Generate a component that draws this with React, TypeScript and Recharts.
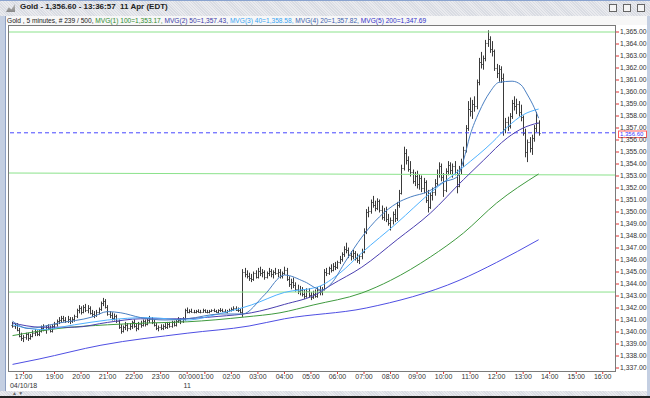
import React from 'react'
import { Bar, ComposedChart, Line, ReferenceLine, XAxis, YAxis } from 'recharts'

// 5 minute bars, index 0 = first visible bar, index 238 = 13:35
const opens = [
  1340.6, 1340.5, 1340.6, 1340.2, 1339.7, 1339.5, 1339.6, 1339.8, 1339.5, 1339.7,
  1339.9, 1340.0, 1339.8, 1340.1, 1340.3, 1340.2, 1340.4, 1340.3, 1340.1, 1340.5,
  1340.7, 1340.9, 1341.0, 1341.2, 1341.0, 1340.9, 1341.1, 1340.9, 1341.1, 1341.3,
  1341.8, 1342.0, 1341.7, 1342.1, 1341.8, 1342.0, 1341.6, 1341.5, 1341.4, 1341.7,
  1341.9, 1342.4, 1342.6, 1342.1, 1341.5, 1341.4, 1341.2, 1341.3, 1340.9, 1340.4,
  1340.1, 1340.4, 1340.6, 1340.3, 1340.5, 1340.8, 1340.5, 1340.3, 1340.7, 1340.6,
  1340.9, 1340.7, 1341.0, 1341.1, 1340.8, 1340.6, 1340.3, 1340.4, 1340.3, 1340.5,
  1340.4, 1340.7, 1340.5, 1340.8, 1340.6, 1340.9, 1341.0, 1340.9, 1341.1, 1341.8,
  1341.7, 1341.75, 1341.7, 1341.65, 1341.75, 1341.7, 1341.7, 1341.8, 1341.7, 1341.65,
  1341.75, 1341.8, 1341.75, 1341.7, 1341.8, 1341.85, 1341.75, 1341.7, 1341.75, 1341.85,
  1341.9, 1342.0, 1341.85, 1341.8, 1341.65, 1345.0, 1344.8, 1344.7, 1344.5, 1344.4,
  1344.9, 1344.6, 1345.1, 1344.9, 1345.0, 1344.6, 1344.9, 1345.1, 1344.8, 1345.0,
  1344.9, 1345.0, 1344.7, 1344.9, 1345.2, 1344.4, 1344.0, 1344.2, 1343.9, 1343.6,
  1343.4, 1343.5, 1343.2, 1343.0, 1343.4, 1343.1, 1342.9, 1343.2, 1343.0, 1343.5,
  1343.3, 1343.6, 1345.0, 1344.9, 1345.3, 1345.2, 1345.5, 1345.4, 1345.8, 1346.1,
  1346.5, 1346.9, 1346.8, 1346.4, 1346.3, 1346.6, 1346.2, 1346.0, 1346.3, 1346.7,
  1348.4, 1350.0, 1350.1, 1350.8, 1350.6, 1350.3, 1350.9, 1350.2, 1349.6, 1350.1,
  1349.4, 1349.1, 1349.3, 1349.8, 1349.5, 1350.6, 1351.6, 1353.7, 1354.9, 1354.3,
  1353.6, 1353.3, 1352.6, 1353.0, 1352.3, 1352.8, 1352.0, 1352.5, 1351.0, 1350.4,
  1351.4, 1351.7, 1352.4, 1353.2, 1353.8, 1352.9, 1351.8, 1353.4, 1353.9, 1353.5,
  1353.8, 1353.3, 1352.2, 1353.6, 1354.1, 1355.2, 1357.0, 1358.6, 1358.4, 1359.0,
  1358.8, 1360.8, 1362.5, 1362.3, 1362.8, 1364.1, 1364.4, 1363.6, 1363.4, 1362.0,
  1361.6, 1361.9, 1361.2, 1356.9, 1357.5, 1357.2, 1358.0, 1359.1, 1358.8, 1359.0,
  1358.3, 1357.9, 1356.6, 1355.0, 1355.8, 1355.3, 1356.2, 1357.0, 1357.4,
]

const highs = [
  1340.8, 1340.7, 1340.7, 1340.3, 1339.9, 1339.7, 1339.9, 1339.9, 1339.8, 1340.1,
  1340.2, 1340.1, 1340.2, 1340.5, 1340.6, 1340.5, 1340.6, 1340.5, 1340.6, 1340.8,
  1341.0, 1341.2, 1341.3, 1341.3, 1341.2, 1341.3, 1341.2, 1341.2, 1341.4, 1341.9,
  1342.2, 1342.1, 1342.2, 1342.3, 1342.2, 1342.1, 1341.8, 1341.7, 1341.8, 1342.0,
  1342.5, 1342.8, 1342.7, 1342.2, 1341.7, 1341.6, 1341.5, 1341.4, 1341.0, 1340.6,
  1340.5, 1340.8, 1340.7, 1340.7, 1340.9, 1341.0, 1340.7, 1340.8, 1340.9, 1341.0,
  1341.0, 1341.1, 1341.3, 1341.2, 1341.0, 1340.7, 1340.5, 1340.6, 1340.6, 1340.7,
  1340.8, 1340.8, 1340.9, 1340.9, 1341.0, 1341.2, 1341.1, 1341.2, 1341.9, 1342.0,
  1341.85, 1341.9, 1341.8, 1341.8, 1341.85, 1341.8, 1341.9, 1341.85, 1341.8, 1341.8,
  1341.85, 1341.9, 1341.8, 1341.85, 1341.95, 1341.9, 1341.85, 1341.8, 1341.9, 1342.0,
  1342.1, 1342.1, 1342.0, 1341.9, 1345.2, 1345.3, 1345.1, 1344.9, 1344.8, 1345.0,
  1345.1, 1345.3, 1345.4, 1345.2, 1345.1, 1345.0, 1345.3, 1345.2, 1345.1, 1345.3,
  1345.2, 1345.2, 1345.0, 1345.4, 1345.3, 1344.6, 1344.4, 1344.5, 1344.1, 1343.9,
  1343.8, 1343.7, 1343.5, 1343.6, 1343.6, 1343.3, 1343.4, 1343.5, 1343.7, 1343.8,
  1343.7, 1345.2, 1345.3, 1345.4, 1345.6, 1345.7, 1345.8, 1345.9, 1346.3, 1346.6,
  1347.1, 1347.4, 1347.0, 1346.7, 1346.8, 1346.7, 1346.5, 1346.4, 1346.9, 1348.6,
  1350.2, 1350.4, 1351.0, 1351.3, 1350.9, 1351.1, 1351.0, 1350.5, 1350.3, 1350.4,
  1349.8, 1349.5, 1350.0, 1350.2, 1350.8, 1351.8, 1353.9, 1355.4, 1355.2, 1354.6,
  1354.2, 1353.5, 1353.3, 1353.4, 1353.1, 1353.0, 1352.8, 1352.6, 1351.8, 1351.6,
  1352.0, 1352.7, 1353.5, 1354.1, 1354.0, 1353.2, 1353.6, 1354.2, 1354.1, 1354.0,
  1354.2, 1353.5, 1353.8, 1354.4, 1355.4, 1357.2, 1359.2, 1359.5, 1359.3, 1359.6,
  1361.0, 1362.8, 1363.3, 1363.0, 1364.3, 1365.1, 1364.6, 1364.2, 1363.5, 1362.3,
  1362.2, 1362.1, 1361.5, 1357.8, 1357.9, 1358.2, 1359.3, 1359.6, 1359.4, 1359.2,
  1358.9, 1358.0, 1356.9, 1356.0, 1356.2, 1356.4, 1357.2, 1358.3, 1357.6,
]

const lows = [
  1340.4, 1340.3, 1340.1, 1339.6, 1339.3, 1339.2, 1339.4, 1339.3, 1339.4, 1339.6,
  1339.7, 1339.7, 1339.7, 1340.0, 1340.1, 1339.9, 1340.2, 1340.0, 1340.0, 1340.3,
  1340.5, 1340.7, 1340.8, 1340.9, 1340.8, 1340.8, 1340.7, 1340.8, 1340.9, 1341.2,
  1341.6, 1341.5, 1341.6, 1341.7, 1341.6, 1341.5, 1341.3, 1341.2, 1341.3, 1341.5,
  1341.8, 1342.2, 1342.0, 1341.4, 1341.2, 1341.0, 1341.0, 1340.8, 1340.3, 1339.9,
  1340.0, 1340.2, 1340.1, 1340.2, 1340.3, 1340.4, 1340.1, 1340.2, 1340.4, 1340.5,
  1340.5, 1340.6, 1340.8, 1340.7, 1340.5, 1340.2, 1340.1, 1340.2, 1340.2, 1340.3,
  1340.3, 1340.4, 1340.4, 1340.5, 1340.5, 1340.8, 1340.7, 1340.8, 1341.0, 1341.6,
  1341.6, 1341.65, 1341.6, 1341.6, 1341.65, 1341.6, 1341.65, 1341.65, 1341.6, 1341.6,
  1341.7, 1341.7, 1341.65, 1341.6, 1341.7, 1341.7, 1341.65, 1341.6, 1341.7, 1341.75,
  1341.8, 1341.8, 1341.7, 1341.6, 1341.3, 1344.6, 1344.5, 1344.3, 1344.2, 1344.3,
  1344.5, 1344.5, 1344.7, 1344.6, 1344.4, 1344.5, 1344.7, 1344.6, 1344.5, 1344.8,
  1344.6, 1344.5, 1344.5, 1344.8, 1344.3, 1343.8, 1343.6, 1343.7, 1343.4, 1343.2,
  1343.1, 1343.0, 1342.8, 1342.9, 1342.9, 1342.7, 1342.8, 1342.9, 1342.9, 1343.1,
  1343.1, 1343.5, 1344.7, 1344.8, 1345.0, 1345.1, 1345.2, 1345.3, 1345.7, 1345.9,
  1346.3, 1346.6, 1346.2, 1346.0, 1346.1, 1346.0, 1345.8, 1345.7, 1346.1, 1346.6,
  1348.2, 1349.6, 1349.9, 1350.4, 1350.1, 1350.2, 1350.0, 1349.4, 1349.3, 1349.2,
  1348.9, 1348.5, 1349.0, 1349.2, 1349.3, 1350.4, 1351.5, 1353.5, 1354.0, 1353.4,
  1353.0, 1352.4, 1352.2, 1352.0, 1351.9, 1351.7, 1351.6, 1350.8, 1350.0, 1350.3,
  1351.0, 1351.4, 1352.2, 1352.9, 1352.6, 1351.3, 1351.7, 1353.1, 1353.2, 1352.9,
  1353.1, 1351.6, 1352.1, 1353.2, 1353.8, 1355.0, 1356.8, 1358.0, 1357.8, 1358.4,
  1358.6, 1360.6, 1362.0, 1361.9, 1362.6, 1363.8, 1363.3, 1363.0, 1361.8, 1361.2,
  1360.9, 1360.8, 1356.4, 1356.6, 1356.8, 1357.0, 1357.8, 1358.5, 1358.2, 1358.0,
  1357.6, 1356.4, 1354.6, 1354.2, 1355.0, 1354.8, 1355.9, 1356.7, 1356.4,
]

const closes = [
  1340.5, 1340.6, 1340.2, 1339.7, 1339.5, 1339.6, 1339.8, 1339.5, 1339.7, 1339.9,
  1340.0, 1339.8, 1340.1, 1340.3, 1340.2, 1340.4, 1340.3, 1340.1, 1340.5, 1340.7,
  1340.9, 1341.0, 1341.2, 1341.0, 1340.9, 1341.1, 1340.9, 1341.1, 1341.3, 1341.8,
  1342.0, 1341.7, 1342.1, 1341.8, 1342.0, 1341.6, 1341.5, 1341.4, 1341.7, 1341.9,
  1342.4, 1342.6, 1342.1, 1341.5, 1341.4, 1341.2, 1341.3, 1340.9, 1340.4, 1340.1,
  1340.4, 1340.6, 1340.3, 1340.5, 1340.8, 1340.5, 1340.3, 1340.7, 1340.6, 1340.9,
  1340.7, 1341.0, 1341.1, 1340.8, 1340.6, 1340.3, 1340.4, 1340.3, 1340.5, 1340.4,
  1340.7, 1340.5, 1340.8, 1340.6, 1340.9, 1341.0, 1340.9, 1341.1, 1341.8, 1341.7,
  1341.75, 1341.7, 1341.65, 1341.75, 1341.7, 1341.7, 1341.8, 1341.7, 1341.65, 1341.75,
  1341.8, 1341.75, 1341.7, 1341.8, 1341.85, 1341.75, 1341.7, 1341.75, 1341.85, 1341.9,
  1342.0, 1341.85, 1341.8, 1341.65, 1345.0, 1344.8, 1344.7, 1344.5, 1344.4, 1344.9,
  1344.6, 1345.1, 1344.9, 1345.0, 1344.6, 1344.9, 1345.1, 1344.8, 1345.0, 1344.9,
  1345.0, 1344.7, 1344.9, 1345.2, 1344.4, 1344.0, 1344.2, 1343.9, 1343.6, 1343.4,
  1343.5, 1343.2, 1343.0, 1343.4, 1343.1, 1342.9, 1343.2, 1343.0, 1343.5, 1343.3,
  1343.6, 1345.0, 1344.9, 1345.3, 1345.2, 1345.5, 1345.4, 1345.8, 1346.1, 1346.5,
  1346.9, 1346.8, 1346.4, 1346.3, 1346.6, 1346.2, 1346.0, 1346.3, 1346.7, 1348.4,
  1350.0, 1350.1, 1350.8, 1350.6, 1350.3, 1350.9, 1350.2, 1349.6, 1350.1, 1349.4,
  1349.1, 1349.3, 1349.8, 1349.5, 1350.6, 1351.6, 1353.7, 1354.9, 1354.3, 1353.6,
  1353.3, 1352.6, 1353.0, 1352.3, 1352.8, 1352.0, 1352.5, 1351.0, 1350.4, 1351.4,
  1351.7, 1352.4, 1353.2, 1353.8, 1352.9, 1351.8, 1353.4, 1353.9, 1353.5, 1353.8,
  1353.3, 1352.2, 1353.6, 1354.1, 1355.2, 1357.0, 1358.6, 1358.4, 1359.0, 1358.8,
  1360.8, 1362.5, 1362.3, 1362.8, 1364.1, 1364.4, 1363.6, 1363.4, 1362.0, 1361.6,
  1361.9, 1361.2, 1356.9, 1357.5, 1357.2, 1358.0, 1359.1, 1358.8, 1359.0, 1358.3,
  1357.9, 1356.6, 1355.0, 1355.8, 1355.3, 1356.2, 1357.0, 1357.4, 1356.6,
]

// moving averages: [bar index, value]
const mvg100 = [
  [0, 1339.7], [21, 1340.3], [43, 1340.6], [61, 1340.75], [79, 1340.85], [105, 1341.25],
  [121, 1341.6], [136, 1342.25], [158, 1343.25], [171, 1344.3], [189, 1346.25],
  [204, 1348.25], [219, 1350.75], [238, 1353.17],
]
const mvg50 = [
  [0, 1340.75], [13, 1340.4], [28, 1340.4], [43, 1340.8], [58, 1341.1], [74, 1341.1],
  [93, 1341.3], [108, 1341.6], [123, 1342.3], [138, 1343.2], [144, 1343.9], [158, 1345.4],
  [174, 1347.7], [189, 1349.9], [204, 1352.7], [213, 1354.3], [224, 1356.2], [231, 1357.0],
  [238, 1357.43],
]
const mvg40 = [
  [0, 1340.6], [13, 1340.2], [28, 1340.6], [43, 1341.0], [61, 1341.2], [79, 1341.0],
  [93, 1341.5], [108, 1342.25], [123, 1343.3], [138, 1343.75], [148, 1344.9], [158, 1346.6],
  [174, 1349.1], [189, 1351.6], [204, 1353.75], [217, 1355.8], [224, 1357.1], [231, 1358.1],
  [238, 1358.58],
]
const mvg20 = [
  [0, 1340.9], [7, 1340.3], [21, 1340.75], [36, 1341.25], [43, 1341.7], [49, 1341.6],
  [58, 1341.2], [69, 1341.0], [79, 1341.1], [94, 1341.5], [104, 1341.5], [114, 1343.1],
  [123, 1344.75], [132, 1344.2], [140, 1343.5], [144, 1344.0], [151, 1346.0], [158, 1347.9],
  [166, 1349.6], [174, 1350.75], [180, 1351.25], [188, 1351.7], [195, 1352.5], [201, 1352.9],
  [204, 1354.3], [207, 1356.4], [211, 1358.3], [216, 1360.0], [220, 1360.8], [226, 1360.9],
  [230, 1360.6], [233, 1359.75], [236, 1358.7], [238, 1357.82],
]
const mvg200 = [
  [0, 1337.3], [12, 1337.75], [40, 1338.9], [79, 1339.9], [107, 1340.5], [123, 1341.1],
  [160, 1342.0], [202, 1344.3], [219, 1345.8], [238, 1347.69],
]

const timeTicks = [5, 19, 31, 43, 55, 67, 79, 87, 99, 111, 123, 135, 147, 159, 171, 183, 195, 207, 219, 231, 243, 255, 267]
const timeLabels = [
  '17:00', '19:00', '20:00', '21:00', '22:00', '23:00', '00:00', '01:00', '02:00', '03:00', '04:00', '05:00',
  '06:00', '07:00', '08:00', '09:00', '10:00', '11:00', '12:00', '13:00', '14:00', '15:00', '16:00',
]
const dateLabels: Record<number, string> = { 5: '04/10/18', 79: '11' }
const priceTicks = [
  1337, 1338, 1339, 1340, 1341, 1342, 1343, 1344, 1345, 1346, 1347, 1348, 1349, 1350,
  1351, 1352, 1353, 1354, 1355, 1356, 1357, 1358, 1359, 1360, 1361, 1362, 1363, 1364, 1365,
]
const lastPrice = 1356.6
const greenLevels = [1365, 1343.33]
const greenTrend = [[-1.6, 1353.25], [273, 1353.08]]

const FONT = '"Liberation Sans", Arial, sans-serif'

const rows = opens.map((o, i) => ({
  i,
  o,
  h: highs[i],
  l: lows[i],
  c: closes[i],
  range: [lows[i], highs[i]],
})) as any[]

const addMa = (key: string, pts: number[][]) => {
  pts.forEach(([i, v]) => {
    rows[i][key] = v
  })
}
addMa('m100', mvg100)
addMa('m50', mvg50)
addMa('m40', mvg40)
addMa('m20', mvg20)
addMa('m200', mvg200)

const fmt = (v: number) => v.toLocaleString('en-US', { minimumFractionDigits: 2, maximumFractionDigits: 2 })

function OhlcBar(props: any) {
  const { x, y, width, height, payload } = props
  if (x == null || y == null) return null
  const top = Math.min(y, y + height)
  const bottom = Math.max(y, y + height)
  const span = payload.h - payload.l
  const k = span > 0 ? (bottom - top) / span : 0
  const yo = top + (payload.h - payload.o) * k
  const yc = top + (payload.h - payload.c) * k
  const cx = Math.round(x + width / 2) + 0.5
  return (
    <g stroke="#3a3a3a" strokeWidth={1}>
      <line x1={cx} x2={cx} y1={top - 0.5} y2={Math.max(bottom, top + 1) + 0.5} />
      <line x1={cx - 1} x2={cx} y1={Math.round(yo) + 0.5} y2={Math.round(yo) + 0.5} />
      <line x1={cx} x2={cx + 1} y1={Math.round(yc) + 0.5} y2={Math.round(yc) + 0.5} />
    </g>
  )
}

function TimeTick(props: any) {
  const { x, y, payload } = props
  const idx = timeTicks.indexOf(payload.value)
  const date = dateLabels[payload.value]
  return (
    <g fontFamily={FONT} fontSize={7} fill="#333">
      <text x={x} y={y + 5} textAnchor="middle">{timeLabels[idx]}</text>
      {date && <text x={x} y={y + 14} textAnchor="middle">{date}</text>}
    </g>
  )
}

function PriceTag(props: any) {
  const { viewBox } = props
  const right = viewBox.x + viewBox.width
  return (
    <g>
      <rect x={right + 2.5} y={viewBox.y - 1.8} width={28} height={6.6} fill="#fff" stroke="#ff5a5a" />
      <text x={right + 4} y={viewBox.y + 3.6} fontFamily={FONT} fontSize={6} fill="#3b3bff">{fmt(lastPrice)}</text>
    </g>
  )
}

const hatch = 'repeating-linear-gradient(45deg, #e9eaee 0px, #e9eaee 1px, #d9dce3 1px, #d9dce3 2px)'

export default function App() {
  return (
    <div style={{ position: 'fixed', left: 0, top: 0, width: 650, height: 398, background: '#fff', overflow: 'hidden', fontFamily: FONT }}>
      {/* title bar */}
      <div style={{ position: 'absolute', left: 0, top: 0, width: 650, height: 16, background: hatch, borderTop: '1px solid #8aa3cf' }} />
      <div style={{ position: 'absolute', left: 6, top: 4, width: 9, height: 8, background: 'linear-gradient(#bbb,#888)', clipPath: 'polygon(0 100%, 30% 40%, 60% 70%, 100% 0, 100% 100%)' }} />
      <div style={{ position: 'absolute', left: 20, top: 2, fontSize: 8, fontWeight: 'bold', color: '#222', whiteSpace: 'pre' }}>
        Gold - 1,356.60 - 13:36:57  11 Apr (EDT)
      </div>
      {[609, 623, 637].map((bx) => (
        <div key={bx} style={{ position: 'absolute', left: bx, top: 4, width: 8, height: 8, border: '1px solid #666', background: '#f4f4f4', boxSizing: 'border-box' }} />
      ))}
      {/* legend row */}
      <div style={{ position: 'absolute', left: 0, top: 16, width: 650, height: 9, background: '#f7f7f7' }} />
      <div style={{ position: 'absolute', left: 7, top: 16, fontSize: 6.6, lineHeight: '9px', whiteSpace: 'pre', color: '#222' }}>
        <span>Gold , 5 minutes, # 239 / 500, </span>
        <span style={{ color: '#2e8b2e' }}>MVG(1) 100=1,353.17, </span>
        <span style={{ color: '#3b3ba8' }}>MVG(2) 50=1,357.43, </span>
        <span style={{ color: '#38a4f2' }}>MVG(3) 40=1,358.58, </span>
        <span style={{ color: '#3a5fae' }}>MVG(4) 20=1,357.82, </span>
        <span style={{ color: '#3232c8' }}>MVG(5) 200=1,347.69</span>
      </div>
      {/* left frame */}
      <div style={{ position: 'absolute', left: 0, top: 16, width: 5, height: 380, background: '#c4cfe2', borderRight: '1px solid #8c9fc2' }} />

      <div style={{ position: 'absolute', left: 0, top: 0 }}>
        <ComposedChart width={650} height={398} data={rows} margin={{ top: 26, right: 0, bottom: 0, left: 9 }}>
          <XAxis
            type="number"
            dataKey="i"
            domain={[-1.6, 273]}
            allowDataOverflow
            ticks={timeTicks}
            interval={0}
            height={26}
            tickSize={2}
            tickMargin={0}
            tickLine={{ stroke: '#e53030' }}
            axisLine={false}
            tick={<TimeTick />}
          />
          <YAxis
            orientation="right"
            domain={[1336.667, 1365.5]}
            allowDataOverflow
            ticks={priceTicks}
            interval={0}
            width={34}
            tickSize={3}
            tickMargin={1}
            tickLine={{ stroke: '#e53030' }}
            axisLine={false}
            tickFormatter={fmt}
            tick={{ fontSize: 6.8, fill: '#333', fontFamily: FONT }}
          />
          {greenLevels.map((v) => (
            <ReferenceLine key={v} y={v} stroke="#8be28b" strokeWidth={1} />
          ))}
          <ReferenceLine
            segment={greenTrend.map(([x, y]) => ({ x, y }))}
            stroke="#8be28b"
            strokeWidth={1}
            ifOverflow="hidden"
          />
          <ReferenceLine y={lastPrice} stroke="#4646ff" strokeDasharray="4 3" label={<PriceTag />} />
          <Line dataKey="m200" type="monotone" connectNulls dot={false} stroke="#4f4fe3" strokeWidth={1} isAnimationActive={false} />
          <Line dataKey="m100" type="monotone" connectNulls dot={false} stroke="#3f9a3f" strokeWidth={1} isAnimationActive={false} />
          <Line dataKey="m50" type="monotone" connectNulls dot={false} stroke="#4a3fb0" strokeWidth={1} isAnimationActive={false} />
          <Line dataKey="m40" type="monotone" connectNulls dot={false} stroke="#4fb2ff" strokeWidth={1} isAnimationActive={false} />
          <Line dataKey="m20" type="monotone" connectNulls dot={false} stroke="#4a7fc2" strokeWidth={1} isAnimationActive={false} />
          <Bar dataKey="range" barSize={2} shape={<OhlcBar />} isAnimationActive={false} />
        </ComposedChart>
      </div>

      {/* plot frame */}
      <div style={{ position: 'absolute', left: 8, top: 25, width: 608, height: 347, border: '1px solid #7a7a7a', boxSizing: 'border-box', pointerEvents: 'none' }} />
      {/* bottom strip */}
      <div style={{ position: 'absolute', left: 0, top: 391, width: 650, height: 5, background: hatch }} />
      <div style={{ position: 'absolute', left: 12, top: 391, fontSize: 5, color: '#666', lineHeight: '5px' }}>▲ ▼</div>
      <div style={{ position: 'absolute', left: 0, top: 396, width: 650, height: 2, background: '#222' }} />
      <div style={{ position: 'absolute', right: 0, top: 16, width: 3, height: 380, background: '#c4cfe2' }} />
    </div>
  )
}
